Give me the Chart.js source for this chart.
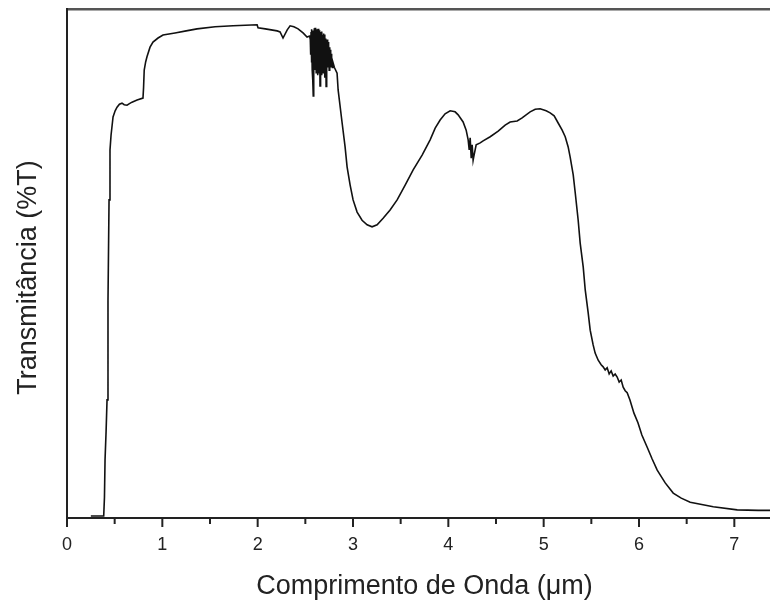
<!DOCTYPE html>
<html>
<head>
<meta charset="utf-8">
<script src="https://cdn.jsdelivr.net/npm/chart.js@4.4.0/dist/chart.umd.min.js"></script>
<style>
  html, body { margin: 0; padding: 0; background: #fff; overflow: hidden; }
  #wrap { position: relative; width: 798px; height: 601px; }
</style>
</head>
<body>
<div id="wrap"><canvas id="spectrum"></canvas></div>
<script>
// wavelength (um) and transmittance
const wavelength = [
  0.25, 0.30, 0.35, 0.385, 0.393, 0.399, 0.41, 0.42, 0.43, 0.441, 0.451, 0.462, 0.483, 0.505, 0.525,
  0.55, 0.577, 0.60, 0.63, 0.655, 0.682, 0.735, 0.797, 0.803, 0.81, 0.825, 0.839, 0.871, 0.902, 0.955,
  1.007, 1.133, 1.25, 1.364, 1.553, 1.742, 1.87, 1.994, 2.004, 2.08, 2.204, 2.235, 2.266, 2.31, 2.34,
  2.38, 2.424, 2.476, 2.518, 2.545,
  // noisy water band
  2.552, 2.556, 2.560, 2.564, 2.568, 2.572, 2.576, 2.580, 2.583, 2.586,
  2.590, 2.594, 2.598, 2.602, 2.606, 2.610, 2.614, 2.618, 2.622, 2.626,
  2.630, 2.634, 2.638, 2.642, 2.646, 2.650, 2.654, 2.658, 2.662, 2.666,
  2.670, 2.674, 2.678, 2.682, 2.686, 2.690, 2.694, 2.698, 2.702, 2.706,
  2.710, 2.714, 2.718, 2.722, 2.726, 2.730, 2.734, 2.738, 2.742, 2.746,
  2.750, 2.754, 2.758, 2.762, 2.766, 2.770, 2.774, 2.778, 2.784, 2.790,
  2.805,
  2.833, 2.844, 2.886, 2.917, 2.938, 2.97, 3.001, 3.043, 3.095, 3.148, 3.2, 3.253, 3.316, 3.389, 3.463,
  3.547, 3.631, 3.725, 3.809, 3.862, 3.914, 3.966, 4.019, 4.071, 4.103, 4.155, 4.187, 4.208, 4.219,
  4.229, 4.24, 4.25, 4.26, 4.27, 4.292, 4.334, 4.365, 4.439, 4.523, 4.596, 4.648, 4.722, 4.774, 4.858,
  4.911, 4.963, 5.026, 5.068, 5.11, 5.152, 5.194, 5.226, 5.257, 5.278, 5.31, 5.331, 5.362, 5.383, 5.415,
  5.436, 5.467, 5.488, 5.519, 5.54, 5.572, 5.603, 5.624, 5.645, 5.666, 5.687, 5.708, 5.729, 5.75, 5.771,
  5.792, 5.813, 5.834, 5.855, 5.876, 5.905, 5.947, 5.989, 6.03, 6.086, 6.138, 6.191, 6.275, 6.359, 6.443,
  6.537, 6.779, 7.03, 7.25, 7.5
];
const transmittance = [
  0.4, 0.4, 0.4, 0.4, 4.1, 11.4, 17, 23.2, 42.8, 62.5, 72.3, 75.2, 78.8, 80.0, 80.7,
  81.3, 81.5, 81.2, 81.1, 81.4, 81.7, 82.1, 82.5, 84.5, 88.0, 89.6, 90.6, 92.5, 93.5, 94.3,
  94.9, 95.3, 95.7, 96.1, 96.5, 96.7, 96.8, 96.9, 96.3, 96.1, 95.7, 95.5, 94.3, 95.9, 96.7,
  96.5, 96.1, 95.3, 94.5, 94.7,
  94.0, 91.0, 95.5, 89.5, 96.0, 88.0, 95.8, 86.0, 82.9, 95.0,
  89.5, 96.2, 88.0, 96.3, 89.0, 95.5, 87.5, 96.0, 88.5, 95.5,
  87.0, 96.1, 89.0, 95.4, 87.5, 95.8, 84.9, 94.8, 88.0, 95.5,
  87.0, 95.6, 88.5, 94.9, 87.5, 95.2, 88.0, 95.0, 86.5, 94.5,
  87.0, 94.2, 84.8, 93.8, 88.0, 94.0, 88.5, 93.5, 89.0, 93.0,
  88.0, 92.5, 89.0, 92.0, 88.5, 91.2, 89.0, 90.5, 88.5, 89.5,
  88.5,
  87.4, 84.1, 77.6, 72.9, 69.0, 65.4, 62.5, 60.1, 58.5, 57.6, 57.2, 57.6, 58.9, 60.5, 62.5,
  65.4, 68.4, 71.3, 74.3, 76.6, 78.2, 79.4, 80.0, 79.8, 79.2, 77.8, 76.2, 74.3, 72.3,
  74.7, 70.7, 73.3, 70.3, 71.3, 73.3, 73.7, 74.1, 74.9, 76.0, 77.2, 77.8, 78.0, 78.6, 79.8,
  80.3, 80.4, 80.0, 79.6, 79.0, 77.6, 76.2, 74.9, 72.9, 70.9, 67.4, 63.9, 58.5, 54.0, 49.3,
  44.8, 40.3, 36.9, 34.0, 32.4, 31.0, 30.1, 29.7, 29.1, 29.5, 28.3, 28.9, 27.9, 28.3, 27.7,
  26.7, 27.1, 25.7, 25.0, 24.6, 23.2, 20.6, 18.7, 16.3, 13.9, 11.6, 9.4, 6.9, 4.9, 3.9,
  3.1, 2.2, 1.6, 1.5, 1.5
];
const xTitle = 'Comprimento de Onda (\u03bcm)';
const yTitle = 'Transmitância (%T)';

const fontFamily = '"Liberation Sans", Arial, sans-serif';

// tick marks (long on integers, short on halves) and the rotated y title
const axisDecor = {
  id: 'axisDecor',
  afterDraw(chart) {
    const { ctx, chartArea, scales: { x } } = chart;
    ctx.save();
    ctx.strokeStyle = '#222';
    ctx.lineWidth = 2;
    x.ticks.forEach(t => {
      const px = x.getPixelForValue(t.value);
      const len = Number.isInteger(t.value) ? 9 : 6;
      ctx.beginPath();
      ctx.moveTo(px, chartArea.bottom);
      ctx.lineTo(px, chartArea.bottom + len);
      ctx.stroke();
    });
    ctx.translate(29, (chartArea.top + chartArea.bottom) / 2 + 14);
    ctx.rotate(-Math.PI / 2);
    ctx.font = '27px ' + fontFamily;
    ctx.fillStyle = '#222';
    ctx.textAlign = 'center';
    ctx.textBaseline = 'middle';
    ctx.fillText(yTitle, 0, 0);
    ctx.restore();
  }
};

new Chart(document.getElementById('spectrum'), {
  type: 'line',
  data: {
    datasets: [{
      data: wavelength.map((w, i) => ({ x: w, y: transmittance[i] })),
      borderColor: '#111',
      borderWidth: 1.6,
      pointRadius: 0,
      tension: 0,
      fill: false
    }]
  },
  options: {
    responsive: true,
    maintainAspectRatio: false,
    animation: false,
    layout: { padding: { left: 67, top: 9, right: 8, bottom: 0 } },
    plugins: { legend: { display: false }, tooltip: { enabled: false } },
    scales: {
      x: {
        type: 'linear',
        position: 'bottom',
        min: 0,
        max: 7.5,
        afterFit: s => { s.height = 83; },
        grid: { display: false, drawTicks: false },
        border: { display: true, color: '#222', width: 2 },
        ticks: {
          stepSize: 0.5,
          autoSkip: false,
          maxRotation: 0,
          padding: 16,
          color: '#222',
          font: { family: fontFamily, size: 18 },
          callback: v => Number.isInteger(v) ? String(v) : ''
        },
        title: {
          display: true,
          text: xTitle,
          color: '#222',
          font: { family: fontFamily, size: 27, lineHeight: 1 },
          padding: { top: 0, bottom: 1 }
        }
      },
      x2: {
        type: 'linear',
        position: 'top',
        display: true,
        grid: { display: false, drawTicks: false },
        ticks: { display: false },
        border: { display: true, color: '#555', width: 2.5 }
      },
      y: {
        min: 0,
        max: 100,
        grid: { display: false, drawTicks: false },
        ticks: { display: false },
        border: { display: true, color: '#222', width: 2 }
      }
    }
  },
  plugins: [axisDecor]
});
</script>
</body>
</html>
